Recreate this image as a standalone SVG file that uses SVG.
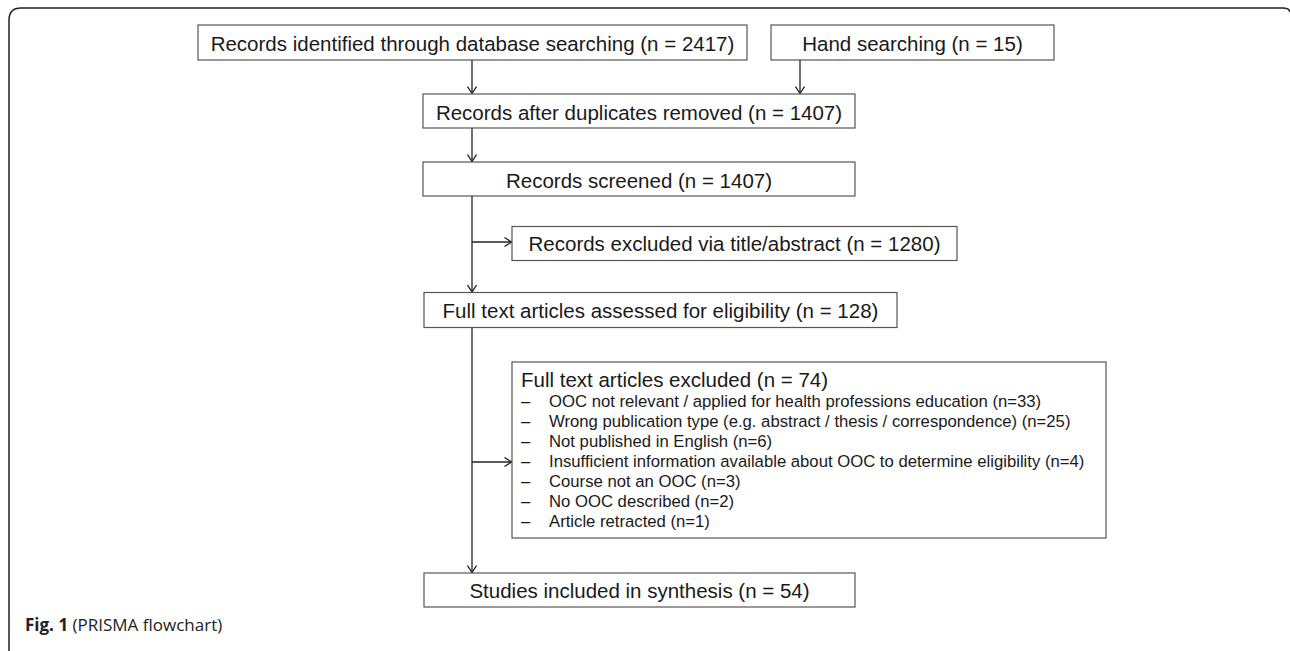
<svg xmlns="http://www.w3.org/2000/svg" width="1290" height="651" viewBox="0 0 1290 651">
<style>
.box{fill:#fff;stroke:#555;stroke-width:1.2}
.t{font-family:"Liberation Sans",Arial,sans-serif;font-size:20.5px;fill:#1a1a1a;text-anchor:middle}
.it{font-family:"Liberation Sans",Arial,sans-serif;font-size:16.7px;fill:#1a1a1a}
.c{fill:none;stroke:#222;stroke-width:1.3}
.cap{font-family:"Open Sans",sans-serif;font-size:17px;fill:#222}
</style>
<defs>
<marker id="arr" viewBox="0 0 8 10" refX="8" refY="5" markerWidth="8" markerHeight="10" orient="auto" markerUnits="userSpaceOnUse">
<path d="M0.5,0.5 L7.5,5 L0.5,9.5" fill="none" stroke="#222" stroke-width="1.3"/>
</marker>
</defs>
<rect width="1290" height="651" fill="#fff"/>
<path d="M9 651 V20 Q9 8 21 8 H1283 Q1289 8 1290 12" fill="none" stroke="#222" stroke-width="1.5"/>
<g id="connectors">
<path class="c" d="M472 60 V94" marker-end="url(#arr)"/>
<path class="c" d="M800 60 V94" marker-end="url(#arr)"/>
<path class="c" d="M472 128 V162" marker-end="url(#arr)"/>
<path class="c" d="M472 196 V292.5" marker-end="url(#arr)"/>
<path class="c" d="M472 242 H512" marker-end="url(#arr)"/>
<path class="c" d="M472 328 V573" marker-end="url(#arr)"/>
<path class="c" d="M472 462 H512" marker-end="url(#arr)"/>
</g>
<g id="identified">
<rect class="box" x="198" y="25" width="549" height="35"/>
<text class="t" x="472.5" y="51">Records identified through database searching (n = 2417)</text>
</g>
<g id="hand">
<rect class="box" x="771" y="25" width="283" height="35"/>
<text class="t" x="912.5" y="51">Hand searching (n = 15)</text>
</g>
<g id="duplicates">
<rect class="box" x="423" y="94" width="432" height="34"/>
<text class="t" x="639" y="120">Records after duplicates removed (n = 1407)</text>
</g>
<g id="screened">
<rect class="box" x="423" y="162" width="432" height="34"/>
<text class="t" x="639" y="188">Records screened (n = 1407)</text>
</g>
<g id="excluded-title">
<rect class="box" x="512" y="226.5" width="445" height="34"/>
<text class="t" x="734.5" y="251">Records excluded via title/abstract (n = 1280)</text>
</g>
<g id="fulltext">
<rect class="box" x="424" y="292.5" width="473" height="35"/>
<text class="t" x="660.5" y="318">Full text articles assessed for eligibility (n = 128)</text>
</g>
<g id="excluded-full">
<rect class="box" x="512" y="362" width="594" height="176"/>
<text class="t" x="521" y="387" style="text-anchor:start">Full text articles excluded (n = 74)</text>
<g class="it">
<text x="521" y="407">–</text><text x="549" y="407">OOC not relevant / applied for health professions education (n=33)</text>
<text x="521" y="427">–</text><text x="549" y="427">Wrong publication type (e.g. abstract / thesis / correspondence) (n=25)</text>
<text x="521" y="447">–</text><text x="549" y="447">Not published in English (n=6)</text>
<text x="521" y="467">–</text><text x="549" y="467">Insufficient information available about OOC to determine eligibility (n=4)</text>
<text x="521" y="487">–</text><text x="549" y="487">Course not an OOC (n=3)</text>
<text x="521" y="507">–</text><text x="549" y="507">No OOC described (n=2)</text>
<text x="521" y="527">–</text><text x="549" y="527">Article retracted (n=1)</text>
</g>
</g>
<g id="included">
<rect class="box" x="424" y="573" width="431" height="34"/>
<text class="t" x="639.5" y="598">Studies included in synthesis (n = 54)</text>
</g>
<text class="cap" x="25" y="631"><tspan font-weight="bold">Fig. 1</tspan> (PRISMA flowchart)</text>
</svg>
